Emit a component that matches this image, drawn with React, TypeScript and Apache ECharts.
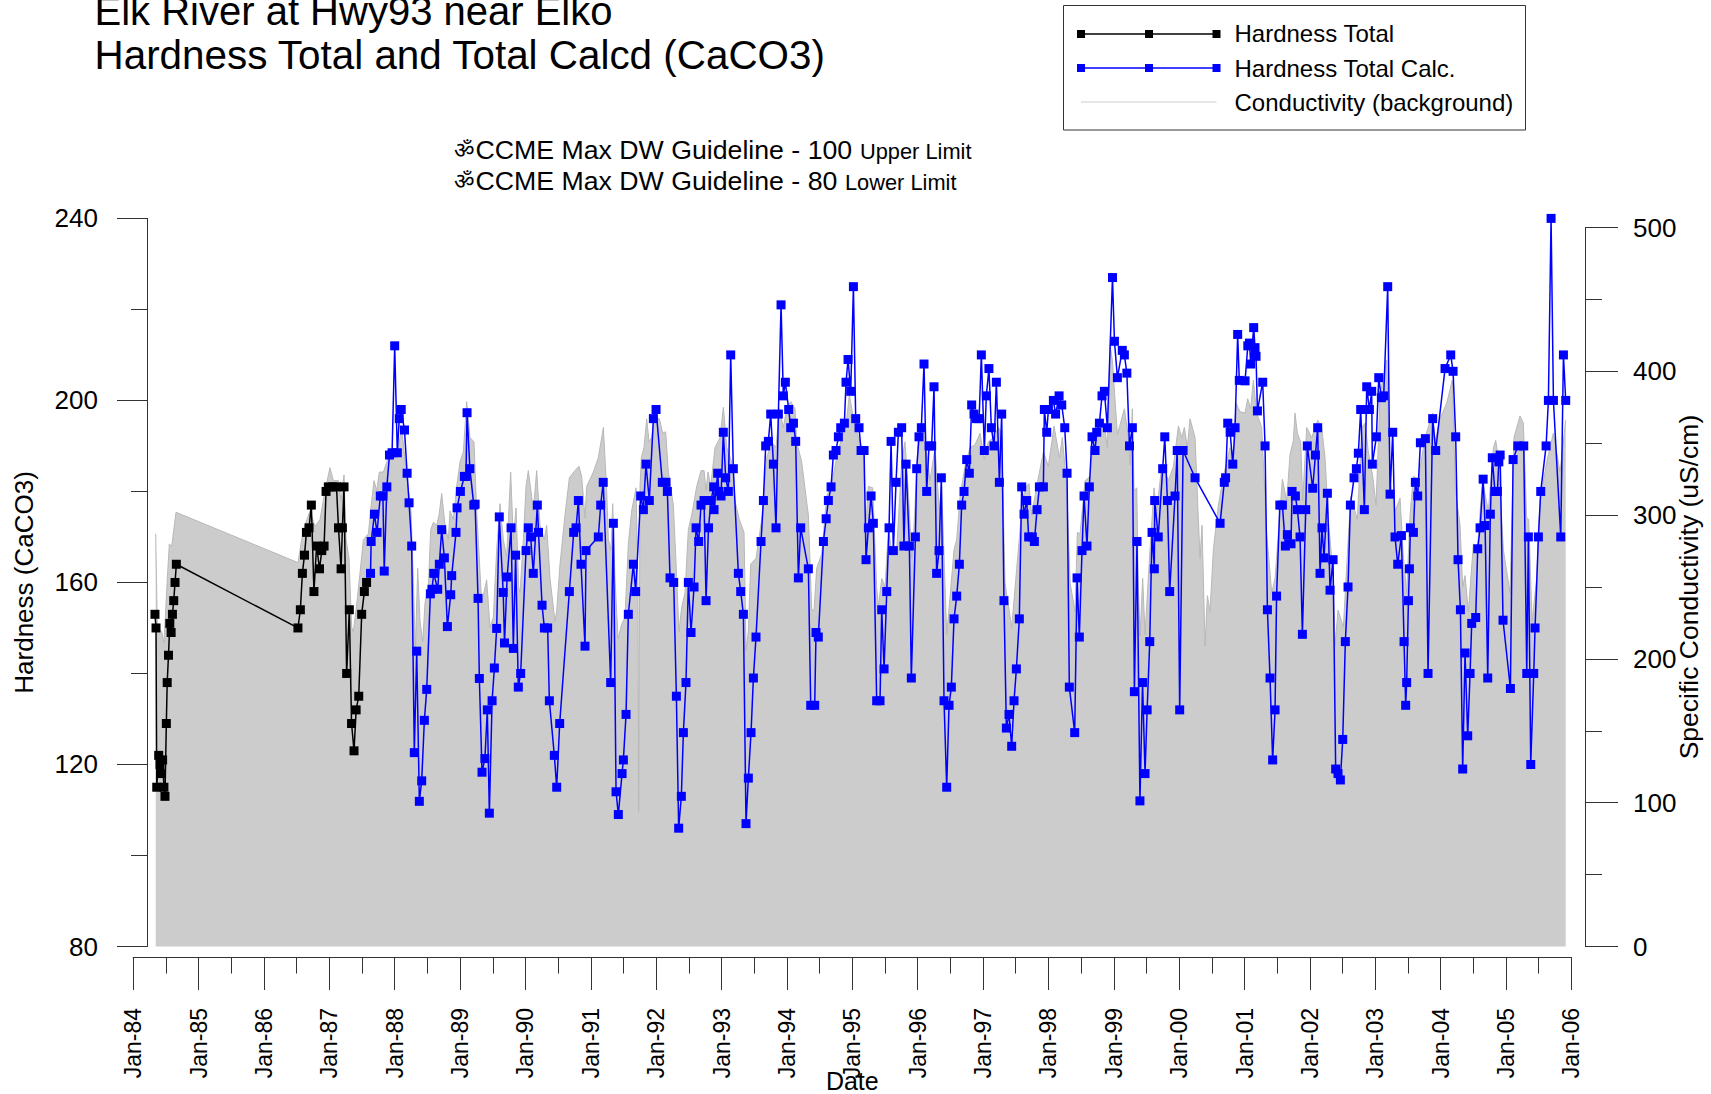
import React, { useEffect, useRef } from "react";
import * as echarts from "echarts";

const FONT = '"Liberation Sans", Arial, sans-serif';
const yearTicks = { min: 1984, max: 2006, interval: 1 };

const totalYears = [1984.333,1984.349,1984.36,1984.39,1984.41,1984.42,1984.45,1984.47,1984.486,1984.507,1984.52,1984.54,1984.56,1984.58,1984.6,1984.62,1984.64,1984.66,1986.52,1986.557,1986.588,1986.62,1986.65,1986.69,1986.725,1986.765,1986.805,1986.85,1986.885,1986.92,1986.95,1986.985,1987.05,1987.11,1987.14,1987.18,1987.2,1987.225,1987.265,1987.306,1987.34,1987.378,1987.41,1987.45,1987.495,1987.536,1987.57];
const totalValues = [153,150,115,122,120,118,121,115,113,129,138,144,151,149,153,156,160,164,150,154,162,166,171,172,177,158,168,163,167,168,180,181,181,181,172,163,172,181,140,154,129,123,132,135,153,158,160];

const calcYears = [1987.63,1987.64,1987.69,1987.73,1987.78,1987.82,1987.84,1987.88,1987.92,1987.96,1988,1988.04,1988.07,1988.1,1988.15,1988.19,1988.22,1988.26,1988.3,1988.337,1988.377,1988.413,1988.454,1988.49,1988.546,1988.57,1988.597,1988.658,1988.683,1988.719,1988.76,1988.806,1988.857,1988.872,1988.938,1988.954,1989.005,1989.066,1989.09,1989.107,1989.15,1989.21,1989.23,1989.275,1989.295,1989.336,1989.38,1989.417,1989.448,1989.49,1989.525,1989.56,1989.6,1989.66,1989.68,1989.72,1989.78,1989.815,1989.85,1989.891,1989.927,1990.009,1990.044,1990.08,1990.12,1990.182,1990.2,1990.254,1990.29,1990.34,1990.366,1990.442,1990.478,1990.524,1990.672,1990.738,1990.774,1990.81,1990.85,1990.911,1990.927,1991.115,1991.151,1991.19,1991.304,1991.345,1991.386,1991.421,1991.478,1991.498,1991.539,1991.574,1991.651,1991.686,1991.763,1991.804,1991.844,1991.895,1991.957,1991.998,1992.094,1992.15,1992.171,1992.212,1992.268,1992.309,1992.344,1992.385,1992.416,1992.456,1992.492,1992.533,1992.579,1992.61,1992.65,1992.686,1992.732,1992.763,1992.8,1992.839,1992.88,1992.885,1992.941,1992.96,1992.992,1993.027,1993.063,1993.104,1993.14,1993.18,1993.257,1993.293,1993.334,1993.374,1993.41,1993.451,1993.487,1993.527,1993.604,1993.64,1993.675,1993.716,1993.752,1993.793,1993.833,1993.869,1993.91,1993.945,1993.976,1994.027,1994.058,1994.1,1994.134,1994.175,1994.21,1994.328,1994.364,1994.425,1994.445,1994.48,1994.558,1994.6,1994.634,1994.675,1994.71,1994.751,1994.787,1994.823,1994.879,1994.904,1994.935,1994.976,1995.017,1995.052,1995.103,1995.134,1995.18,1995.21,1995.246,1995.287,1995.322,1995.373,1995.424,1995.45,1995.486,1995.527,1995.562,1995.593,1995.628,1995.669,1995.705,1995.755,1995.79,1995.822,1995.873,1995.903,1995.965,1995.985,1996.02,1996.056,1996.097,1996.138,1996.174,1996.214,1996.25,1996.29,1996.327,1996.362,1996.403,1996.444,1996.48,1996.515,1996.556,1996.597,1996.638,1996.673,1996.709,1996.75,1996.79,1996.826,1996.862,1996.9,1996.94,1996.974,1997.02,1997.05,1997.09,1997.127,1997.168,1997.204,1997.25,1997.285,1997.32,1997.357,1997.397,1997.438,1997.474,1997.51,1997.555,1997.591,1997.627,1997.668,1997.698,1997.754,1997.785,1997.826,1997.862,1997.923,1997.938,1997.974,1998,1998.076,1998.11,1998.163,1998.204,1998.25,1998.285,1998.32,1998.402,1998.438,1998.473,1998.514,1998.545,1998.59,1998.626,1998.667,1998.713,1998.739,1998.78,1998.82,1998.856,1998.902,1998.98,1999.01,1999.055,1999.13,1999.162,1999.2,1999.24,1999.284,1999.315,1999.355,1999.4,1999.44,1999.478,1999.51,1999.55,1999.585,1999.62,1999.626,1999.68,1999.748,1999.78,1999.82,1999.855,1999.937,1999.97,2000.008,2000.06,2000.243,2000.626,2000.69,2000.71,2000.743,2000.78,2000.82,2000.855,2000.895,2000.92,2001.008,2001.05,2001.075,2001.095,2001.14,2001.16,2001.176,2001.197,2001.278,2001.314,2001.35,2001.39,2001.43,2001.467,2001.49,2001.54,2001.579,2001.625,2001.655,2001.711,2001.727,2001.778,2001.808,2001.849,2001.885,2001.936,2001.96,2002.043,2002.084,2002.119,2002.155,2002.185,2002.216,2002.267,2002.308,2002.354,2002.394,2002.43,2002.466,2002.502,2002.542,2002.583,2002.619,2002.675,2002.711,2002.741,2002.777,2002.833,2002.869,2002.91,2002.945,2002.955,2003.017,2003.053,2003.093,2003.129,2003.19,2003.226,2003.267,2003.302,2003.343,2003.4,2003.44,2003.465,2003.48,2003.507,2003.522,2003.537,2003.583,2003.613,2003.649,2003.69,2003.766,2003.807,2003.878,2003.924,2004.067,2004.154,2004.19,2004.23,2004.266,2004.302,2004.337,2004.373,2004.414,2004.45,2004.475,2004.536,2004.567,2004.603,2004.65,2004.68,2004.72,2004.76,2004.79,2004.83,2004.868,2004.89,2004.91,2004.954,2005.067,2005.108,2005.18,2005.271,2005.317,2005.342,2005.378,2005.424,2005.444,2005.495,2005.531,2005.613,2005.648,2005.689,2005.725,2005.837,2005.878,2005.913];
const calcValues = [162,169,175,171,179,179,162.5,181,188,188.5,212,188.5,196,198,193.5,184,177.5,168,122.6,144.9,111.9,116.4,129.7,136.5,157.5,158.5,162,158.5,164,171.6,165.4,150.3,157.3,161.5,171,176.4,180,183.3,183.3,197.3,185,177,177.2,156.5,138.9,118.3,121.3,132,109.3,134,141.2,149.9,174.4,157.8,146.7,161.2,172,145.5,166,137,140,167,172,170,162,177,171,155,150,150,134,122,115,129,158,171,172,178,164,146,167,170,177,182,138,173,114,109,118,121,131,153,164,158,179,176,186,178,196,198,182,182,180,161,160,135,106,113,127,138,160,149,159,172,169,177,178,156,172,178,181,176,184,180,179,193,183,180,210,185,162,158,153,107,117,127,139,148,169,178,190,191,197,186,172,197,221,201,204,198,194,195,191,161,172,163,133,133,149,148,169,174,178,181,188,189,192,194,195,204,209,202,225,196,194,189,189,165,172,179,173,134,134,154,141,158,172,191,167,182,193,194,168,186,168,139,170,185,192,194,208,180,190,190,203,162,167,183,134,115,133,137,152,157,164,177,180,187,184,199,197,196,196,210,189,201,207,194,190,204,182,197,156,128,131,124,134,141,152,181,175,178,170,170,169,176,181,181,198,193,198,200,197,201,199,194,184,137,127,161,148,167,179,168,181,192,189,193,195,201,202,194,227,213,205,211,210,206,190,194,136,169,112,138,118,132,147,171,163,178,170,185,192,178,158,179,189,132,189,183,173,182,183,195,193,186,194,214.5,204.4,204.3,212,212.6,208,216,211.6,209.7,197.7,204,190,154,139,121,132,157,177,177,168,170.5,168.5,180,179,176,170,148.6,176,190,180.7,188,194,162,172,165.4,179.6,158.3,165,119,118,116.6,125.5,147,159,177,183,185,188.4,198,176,203,198,202,186,192,205,200.6,201,225,179.4,193,170,164,170.3,147,133,138,156,163,172,171,182,179,190.7,191.6,140,196,189,207,210,206.4,192,165,154,119,144.5,126.3,140,151,152.3,167.4,172,182.7,172.5,139,175,187.4,180,180,186.5,188,151.7,136.7,187,190,190,140,170,120,140,150,170,180,190,200,240,200,170,210,200];

const conductivityYears = [1984.344,1984.369,1984.435,1984.471,1984.522,1984.553,1984.588,1984.655,1986.521,1986.577,1986.628,1986.705,1986.781,1986.858,1986.934,1987.01,1987.062,1987.138,1987.179,1987.225,1987.256,1987.301,1987.342,1987.368,1987.419,1987.47,1987.521,1987.597,1987.648,1987.684,1987.725,1987.765,1987.827,1987.903,1987.954,1988.031,1988.107,1988.184,1988.25,1988.286,1988.317,1988.352,1988.388,1988.429,1988.464,1988.515,1988.551,1988.592,1988.643,1988.678,1988.719,1988.77,1988.821,1988.846,1988.897,1988.948,1988.999,1989.05,1989.101,1989.152,1989.213,1989.254,1989.331,1989.407,1989.458,1989.509,1989.56,1989.611,1989.662,1989.713,1989.774,1989.815,1989.856,1989.897,1989.917,1989.968,1990.009,1990.044,1990.095,1990.121,1990.172,1990.223,1990.289,1990.325,1990.376,1990.452,1990.478,1990.529,1990.605,1990.672,1990.758,1990.819,1990.86,1990.911,1990.937,1991.039,1991.115,1991.192,1991.243,1991.268,1991.309,1991.335,1991.37,1991.416,1991.472,1991.523,1991.574,1991.625,1991.692,1991.722,1991.732,1991.753,1991.773,1991.814,1991.855,1991.891,1991.931,1991.972,1992.049,1992.1,1992.145,1992.186,1992.263,1992.314,1992.349,1992.39,1992.441,1992.492,1992.543,1992.62,1992.686,1992.732,1992.763,1992.793,1992.834,1992.9,1992.977,1993.028,1993.079,1993.155,1993.206,1993.272,1993.344,1993.374,1993.41,1993.446,1993.527,1993.614,1993.691,1993.767,1993.833,1993.884,1993.945,1993.997,1994.058,1994.124,1994.149,1994.226,1994.328,1994.379,1994.415,1994.455,1994.532,1994.608,1994.685,1994.762,1994.838,1994.915,1994.955,1995.017,1995.093,1995.17,1995.205,1995.246,1995.312,1995.373,1995.399,1995.45,1995.501,1995.552,1995.603,1995.679,1995.755,1995.806,1995.857,1995.908,1995.934,1996.01,1996.087,1996.189,1996.265,1996.332,1996.367,1996.444,1996.495,1996.556,1996.597,1996.648,1996.724,1996.801,1996.877,1996.954,1997.02,1997.081,1997.158,1997.234,1997.285,1997.336,1997.438,1997.515,1997.591,1997.642,1997.703,1997.744,1997.821,1997.923,1997.999,1998.086,1998.168,1998.213,1998.28,1998.331,1998.407,1998.443,1998.484,1998.56,1998.637,1998.688,1998.79,1998.866,1998.902,1998.943,1998.978,1999.055,1999.162,1999.223,1999.249,1999.284,1999.31,1999.351,1999.376,1999.402,1999.442,1999.478,1999.554,1999.616,1999.657,1999.733,1999.784,1999.835,1999.912,1999.988,2000.039,2000.08,2000.126,2000.166,2000.243,2000.294,2000.319,2000.35,2000.396,2000.432,2000.472,2000.523,2000.6,2000.676,2000.778,2000.829,2000.87,2000.931,2001.008,2001.048,2001.094,2001.135,2001.186,2001.262,2001.339,2001.416,2001.467,2001.543,2001.579,2001.645,2001.696,2001.747,2001.772,2001.808,2001.859,2001.89,2001.951,2002.027,2002.119,2002.18,2002.231,2002.282,2002.359,2002.384,2002.43,2002.512,2002.573,2002.624,2002.726,2002.792,2002.843,2002.894,2002.961,2003.012,2003.073,2003.175,2003.226,2003.307,2003.379,2003.43,2003.481,2003.532,2003.583,2003.659,2003.761,2003.878,2003.914,2003.991,2004.093,2004.179,2004.225,2004.297,2004.337,2004.373,2004.424,2004.501,2004.562,2004.638,2004.73,2004.807,2004.842,2004.883,2004.959,2005.061,2005.122,2005.214,2005.265,2005.316,2005.347,2005.398,2005.469,2005.52,2005.622,2005.724,2005.826,2005.913];
const conductivityValues = [287,222,219,211,256,280,278,302,267,283,293,303,292,297,317,333,324,324,310,328,283,270,222,219,238,260,283,287,310,324,317,330,330,340,344,340,361,327,303,253,206,263,226,212,239,250,290,295,293,300,315,293,283,303,297,320,337,344,379,354,351,303,239,255,222,229,276,308,283,271,330,283,305,250,246,283,320,331,313,303,331,293,283,293,256,226,233,266,300,326,331,334,327,298,320,330,340,361,317,283,276,308,256,214,224,229,280,303,319,249,94,320,340,347,367,351,354,367,367,357,358,330,307,256,219,236,246,290,300,320,331,331,317,330,320,347,354,375,347,337,310,297,288,206,219,266,270,297,340,351,347,374,361,374,379,374,351,337,300,234,234,263,273,313,322,340,354,367,384,367,354,344,290,320,319,250,236,256,250,290,276,276,337,351,317,270,283,354,364,324,347,303,320,217,243,276,283,313,334,347,349,357,339,351,354,361,357,253,222,263,303,319,322,300,320,344,334,362,340,354,320,253,233,288,287,324,327,354,361,359,347,418,408,356,374,354,335,374,317,319,250,216,256,217,276,319,303,334,330,324,334,362,354,361,347,367,354,297,270,293,209,244,233,276,307,327,347,344,378,372,371,381,374,394,371,361,287,246,256,303,325,310,342,352,371,357,351,310,361,354,366,361,340,297,256,209,234,222,273,313,297,361,364,344,327,307,384,408,324,303,312,270,246,300,327,325,354,371,351,367,378,394,317,293,250,258,233,280,276,324,303,347,352,340,276,246,354,369,364,298,297,226,256,310,337,357,330,366];

const fmtDate = (v: number) => "Jan-" + String(Math.round(v) % 100).padStart(2, "0");
const zip = (a: number[], b: number[]) => a.map((x, i) => [x, b[i]]);

const axisInk = { color: "#333", width: 1 };

const legendRows = [
  { label: "Hardness Total", color: "#000000", markers: true, width: 1.5, textY: 33.5 },
  { label: "Hardness Total Calc.", color: "#0000ff", markers: true, width: 1.5, textY: 68.5 },
  { label: "Conductivity (background)", color: "#cccccc", markers: false, width: 1, textY: 102.5 },
];

function txt(text: string, x: number, y: number, size: number): any {
  return {
    type: "text",
    x,
    y,
    z: 100,
    style: { text, fontSize: size, fontFamily: FONT, fill: "#000", align: "left", verticalAlign: "middle" },
  };
}

function buildGraphic(): any[] {
  const els: any[] = [
    txt("Elk River at Hwy93 near Elko", 94.5, 11, 40),
    txt("Hardness Total and Total Calcd (CaCO3)", 94.5, 55, 40.4),
    txt("ॐ", 454, 150, 22.5),
    txt("CCME Max DW Guideline - 100", 475.5, 150, 26.7),
    txt("Upper Limit", 860, 151.5, 21.8),
    txt("ॐ", 454, 181, 22.5),
    txt("CCME Max DW Guideline - 80", 475.5, 181, 26.7),
    txt("Lower Limit", 845, 182.5, 21.8),
    {
      type: "rect",
      z: 90,
      shape: { x: 1063.5, y: 5.5, width: 462, height: 124.5 },
      style: { fill: "#fff", stroke: "#333", lineWidth: 1 },
    },
  ];
  legendRows.forEach((row, i) => {
    const y = 34 + i * 34;
    els.push({
      type: "line",
      z: 95,
      shape: { x1: 1081, y1: y, x2: 1216.5, y2: y },
      style: { stroke: row.color, lineWidth: row.width },
    });
    if (row.markers) {
      [1081, 1149, 1216.5].forEach((cx) =>
        els.push({
          type: "rect",
          z: 96,
          shape: { x: cx - 4, y: y - 4, width: 8, height: 8 },
          style: { fill: row.color },
        })
      );
    }
    els.push(txt(row.label, 1234.5, row.textY, 24));
  });
  return els;
}

export default function App() {
  const ref = useRef<HTMLDivElement>(null);
  useEffect(() => {
    if (!ref.current) return;
    const chart = echarts.init(ref.current, undefined, { renderer: "svg" });
    const left = 133.2;
    const right = 1711 - 1571.4;
    chart.setOption({
      animation: false,
      backgroundColor: "#fff",
      textStyle: { fontFamily: FONT },
      grid: [
        { left, right, top: 218.4, height: 728.1, outerBoundsMode: "none" },
        { left, right, top: 227.6, height: 718.9, outerBoundsMode: "none" },
      ],
      xAxis: [
        {
          type: "value",
          gridIndex: 0,
          ...yearTicks,
          position: "bottom",
          offset: 10.5,
          axisLine: { show: true, onZero: false, lineStyle: axisInk },
          axisTick: { show: true, length: 33, lineStyle: axisInk },
          minorTick: { show: true, splitNumber: 2, length: 16.5, lineStyle: axisInk },
          splitLine: { show: false },
          axisLabel: {
            rotate: 90,
            margin: 51,
            fontSize: 23,
            fontFamily: FONT,
            color: "#000",
            formatter: fmtDate,
            hideOverlap: false,
            showMinLabel: true,
            showMaxLabel: true,
          },
          name: "Date",
          nameLocation: "middle",
          nameMoveOverlap: false,
          nameGap: 111,
          nameTextStyle: { fontSize: 25, fontFamily: FONT, color: "#000" },
        },
        { type: "value", gridIndex: 1, ...yearTicks, show: false },
      ],
      yAxis: [
        {
          type: "value",
          gridIndex: 0,
          min: 80,
          max: 240,
          interval: 40,
          position: "left",
          offset: -13.8,
          axisLine: { show: true, onZero: false, lineStyle: axisInk },
          axisTick: { show: true, length: 30, lineStyle: axisInk },
          minorTick: { show: true, splitNumber: 2, length: 16, lineStyle: axisInk },
          splitLine: { show: false },
          axisLabel: { margin: 49, fontSize: 26, fontFamily: FONT, color: "#000", showMinLabel: true, showMaxLabel: true },
          name: "Hardness (CaCO3)",
          nameLocation: "middle",
          nameMoveOverlap: false,
          nameGap: 110,
          nameRotate: 90,
          nameTextStyle: { fontSize: 26, fontFamily: FONT, color: "#000" },
        },
        {
          type: "value",
          gridIndex: 1,
          min: 0,
          max: 500,
          interval: 100,
          position: "right",
          offset: 13.6,
          axisLine: { show: true, onZero: false, lineStyle: axisInk },
          axisTick: { show: true, length: 33, lineStyle: axisInk },
          minorTick: { show: true, splitNumber: 2, length: 17, lineStyle: axisInk },
          splitLine: { show: false },
          axisLabel: { margin: 48, fontSize: 26, fontFamily: FONT, color: "#000", showMinLabel: true, showMaxLabel: true },
          name: "Specific Conductivity (uS/cm)",
          nameLocation: "middle",
          nameMoveOverlap: false,
          nameGap: 90,
          nameRotate: 90,
          nameTextStyle: { fontSize: 26.5, fontFamily: FONT, color: "#000" },
        },
      ],
      series: [
        {
          name: "Conductivity (background)",
          type: "line",
          xAxisIndex: 1,
          yAxisIndex: 1,
          data: zip(conductivityYears, conductivityValues),
          showSymbol: false,
          symbol: "none",
          z: 1,
          lineStyle: { color: "#b8b8b8", width: 1 },
          areaStyle: { color: "#cccccc", opacity: 1 },
          clip: false,
        },
        {
          name: "Hardness Total",
          type: "line",
          xAxisIndex: 0,
          yAxisIndex: 0,
          data: zip(totalYears, totalValues),
          symbol: "rect",
          symbolSize: 9,
          z: 5,
          clip: false,
          lineStyle: { color: "#000000", width: 1.5 },
          itemStyle: { color: "#000000" },
        },
        {
          name: "Hardness Total Calc.",
          type: "line",
          xAxisIndex: 0,
          yAxisIndex: 0,
          data: zip(calcYears, calcValues),
          symbol: "rect",
          symbolSize: 9,
          z: 6,
          clip: false,
          lineStyle: { color: "#0000ff", width: 1.5 },
          itemStyle: { color: "#0000ff" },
        },
      ],
      graphic: { elements: buildGraphic() },
    });
    return () => chart.dispose();
  }, []);
  return <div ref={ref} style={{ position: "fixed", left: 0, top: 0, width: 1711, height: 1094 }} />;
}
